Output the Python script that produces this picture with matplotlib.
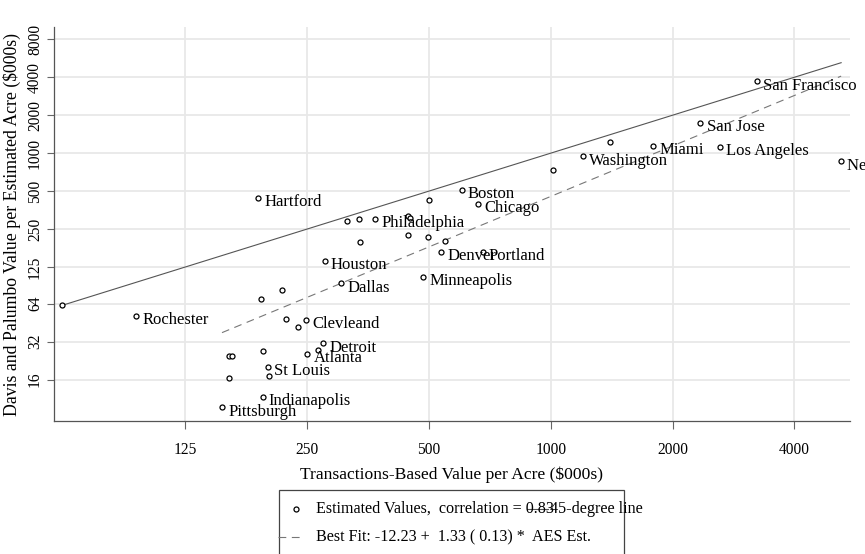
import numpy as np
import matplotlib
matplotlib.use("Agg")
import matplotlib.pyplot as plt
from matplotlib.lines import Line2D
from matplotlib.patches import Rectangle

plt.rcParams["font.family"] = ["Liberation Serif", "DejaVu Serif"]

# Metro land values ($000s per acre): transactions-based vs. Davis & Palumbo estimate
transactions_value = [
    62, 94.6, 189, 314, 336, 368, 445, 449, 338, 443, 496, 549, 537, 483,
    276, 303, 217, 192, 222, 238, 248, 274, 266, 250, 194, 160, 163, 200,
    201, 160, 194, 154, 501, 602, 660, 679, 1011, 1202, 1401, 1790, 2342,
    2621, 3229, 5220,
]
estimated_value = [
    62.5, 51.3, 444, 290, 302, 302, 315, 305, 198, 225, 216, 200, 165, 104,
    140, 92.6, 82.5, 69.1, 48.3, 41.7, 47.4, 30.9, 27.2, 25.5, 26.7, 24.7,
    24.7, 20.2, 17.0, 16.4, 11.7, 9.6, 428, 511, 396, 165, 736, 944, 1237,
    1143, 1750, 1128, 3704, 862,
]
city_labels = [
    "", "Rochester", "Hartford", "", "", "Philadelphia", "", "", "", "", "", "",
    "Denver", "Minneapolis", "Houston", "Dallas", "", "", "", "", "Clevleand",
    "Detroit", "", "Atlanta", "", "", "", "St Louis", "", "", "Indianapolis",
    "Pittsburgh", "", "Boston", "Chicago", "Portland", "", "Washington", "",
    "Miami", "San Jose", "Los Angeles", "San Francisco", "New York",
]

# Best fit in logs: ln(est) = intercept + slope * ln(transactions)
fit_slope = 1.33
fit_intercept = -3.07
fit_x_range = [154, 5220]

x_ticks = [125, 250, 500, 1000, 2000, 4000]
y_ticks = [16, 32, 64, 125, 250, 500, 1000, 2000, 4000, 8000]

legend_marker_text = "Estimated Values,  correlation = 0.83"
legend_line_text = "45-degree line"
legend_fit_text = "Best Fit: -12.23 +  1.33 ( 0.13) *  AES Est."

W, H = 865, 554
fig = plt.figure(figsize=(W / 100, H / 100), dpi=100)
ax = fig.add_axes([54 / W, 1 - 421 / H, 796 / W, 394 / H])
ax.set_xscale("log")
ax.set_yscale("log")
ax.set_xlim(59.2, 5490)
ax.set_ylim(7.5, 10020)

grid_color = "#e8e8e8"
for t in x_ticks:
    ax.axvline(t, color=grid_color, lw=1.3, zorder=0)
for t in y_ticks:
    ax.axhline(t, color=grid_color, lw=1.3, zorder=0)

# 45-degree reference line across the data range
xmin, xmax = min(transactions_value), max(transactions_value)
ax.plot([xmin, xmax], [xmin, xmax], color="#555555", lw=0.8, zorder=2)

# fitted line
fx_line = np.array(fit_x_range, dtype=float)
fy_line = np.exp(fit_intercept + fit_slope * np.log(fx_line))
ax.plot(fx_line, fy_line, color="#777777", lw=0.8, dashes=(7, 5), zorder=2)

ax.plot(transactions_value, estimated_value, linestyle="none", marker="o",
        ms=3.6, mfc="white", mec="black", mew=0.9, zorder=3)

for x, y, name in zip(transactions_value, estimated_value, city_labels):
    if name:
        ax.annotate(name, (x, y), xytext=(4.5, -6.0), textcoords="offset points",
                    ha="left", va="baseline", fontsize=12, color="black",
                    annotation_clip=False, zorder=4)

ax.set_xticks(x_ticks)
ax.set_xticklabels([str(t) for t in x_ticks])
ax.set_yticks(y_ticks)
ax.set_yticklabels([str(t) for t in y_ticks], rotation=90, va="center")
ax.minorticks_off()
ax.tick_params(axis="x", length=6, width=0.8, color="#666666", pad=9, labelsize=11.2)
ax.tick_params(axis="y", length=5, width=0.8, color="#666666", pad=3, labelsize=11.2)

for side in ["top", "right"]:
    ax.spines[side].set_visible(False)
for side in ["left", "bottom"]:
    ax.spines[side].set_color("#555555")
    ax.spines[side].set_linewidth(0.9)

ax.set_xlabel("Transactions-Based Value per Acre ($000s)", fontsize=12.6, labelpad=6)
ax.set_ylabel("Davis and Palumbo Value per Estimated Acre ($000s)", fontsize=12.8,
              labelpad=4)


# legend, laid out in pixel units of the figure
def px(x):
    return x / W


def py(y):
    return 1 - y / H


fig.patches.append(Rectangle((px(279), py(562)), px(624) - px(279), py(490) - py(562),
                             transform=fig.transFigure, fill=False,
                             edgecolor="#444444", lw=0.9))
fig.lines.append(Line2D([px(296)], [py(509)], transform=fig.transFigure,
                        marker="o", ms=3.6, mfc="white", mec="black", mew=0.9,
                        linestyle="none"))
fig.text(px(316), py(509), legend_marker_text, fontsize=11.6, va="center", ha="left")
fig.lines.append(Line2D([px(527), px(548)], [py(509), py(509)],
                        transform=fig.transFigure, color="#555555", lw=0.8))
fig.text(px(550), py(509), legend_line_text, fontsize=11.6, va="center", ha="left")
fig.lines.append(Line2D([px(278), px(301)], [py(537), py(537)],
                        transform=fig.transFigure, color="#777777", lw=0.8,
                        dashes=(7, 5)))
fig.text(px(316), py(537), legend_fit_text, fontsize=11.6, va="center", ha="left")

fig.savefig("out.png", dpi=100, facecolor="white")
